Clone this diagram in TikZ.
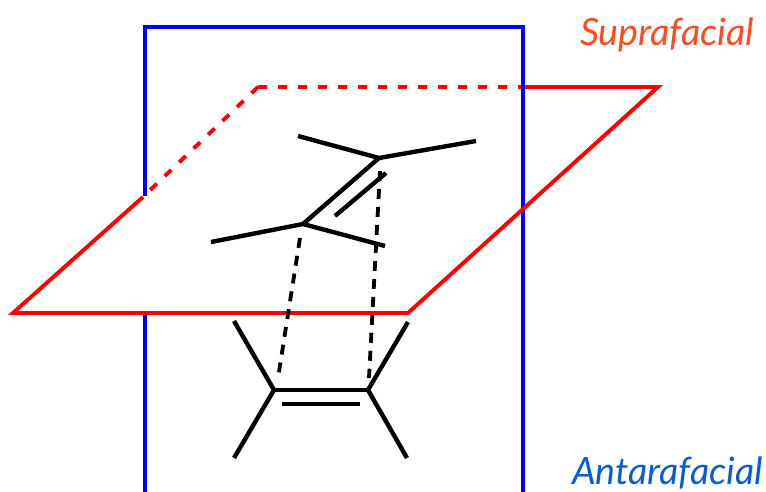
\documentclass[tikz,border=0pt]{standalone}
\usepackage{fontspec}
\setmainfont{Lato}
\definecolor{supra}{HTML}{FF4A1E}
\definecolor{anta}{HTML}{0B5BD6}
\tikzset{
  x=1pt,y=-1pt,
  plane/.style={line width=3.9pt,line cap=butt,line join=miter},
  redp/.style={plane,draw={rgb,255:red,255;green,0;blue,0}},
  redd/.style={redp,dash pattern=on 9pt off 11pt},
  bluep/.style={plane,draw={rgb,255:red,0;green,0;blue,255}},
  bond/.style={line width=4.4pt,draw=black,line cap=butt,line join=bevel},
  dbond/.style={line width=3.8pt,draw=black,dash pattern=on 10pt off 8pt},
  lab/.style={inner sep=0pt,anchor=base west,font=\itshape\fontsize{37.6}{38}\selectfont}
}
\begin{document}
\begin{tikzpicture}
\useasboundingbox (0,0) rectangle (766,492);
% plane corners
\coordinate (bl1) at (145,196);
\coordinate (bl2) at (145,314);
\coordinate (bb1) at (145,492);
\coordinate (bt1) at (145,27);
\coordinate (bt2) at (523,27);
\coordinate (bb2) at (523,492);
\coordinate (r1) at (13,313);
\coordinate (r2) at (408,313);
\coordinate (r3) at (658,87);
\coordinate (r4) at (258,87);
\coordinate (r5) at (523,87);
\coordinate (r6) at (146,194);
\coordinate (r7) at (143,197);
\coordinate (bx1) at (523,80);
\coordinate (bx2) at (523,94);
% blue plane
\draw[bluep] (bl1) -- (bt1) -- (bt2) -- (bb2);
\draw[bluep] (bl2) -- (bb1);
% red plane
\draw[redp] (r7) -- (r1) -- (r2) -- (r3) -- (r5);
\draw[redd] (r4) -- (r5);
\draw[redd] (r4) -- (r6);
\draw[bluep] (bx1) -- (bx2);
% upper alkene
\coordinate (c1) at (379,158);
\coordinate (c2) at (303,224);
\coordinate (u1) at (298,136);
\coordinate (u2) at (476,141);
\coordinate (u3) at (211,242);
\coordinate (u4) at (385,246);
\coordinate (d1) at (335,216);
\coordinate (d2) at (386,173);
\draw[bond] (u1) -- (c1) -- (u2);
\draw[bond] (u3) -- (c2) -- (u4);
\draw[bond] (c1) -- (c2);
\draw[bond] (d1) -- (d2);
% lower alkene
\coordinate (c3) at (274,390);
\coordinate (c4) at (368,390);
\coordinate (l1) at (234,321);
\coordinate (l2) at (234,458);
\coordinate (l3) at (408,322);
\coordinate (l4) at (407,458);
\coordinate (d3) at (282,404);
\coordinate (d4) at (360,404);
\draw[bond] (l1) -- (c3) -- (l2);
\draw[bond] (l3) -- (c4) -- (l4);
\draw[bond] (c3) -- (c4);
\draw[bond] (d3) -- (d4);
% forming bonds
\coordinate (f1) at (300,238);
\coordinate (f2) at (278,378);
\coordinate (f3) at (380,171);
\coordinate (f4) at (369,378);
\draw[dbond] (f1) -- (f2);
\draw[dbond] (f3) -- (f4);
% labels
\node[lab,text=supra] (s) at (580,46) {Suprafacial};
\node[lab,text=anta] (a) at (572,484) {Antarafacial};
\end{tikzpicture}
\end{document}
